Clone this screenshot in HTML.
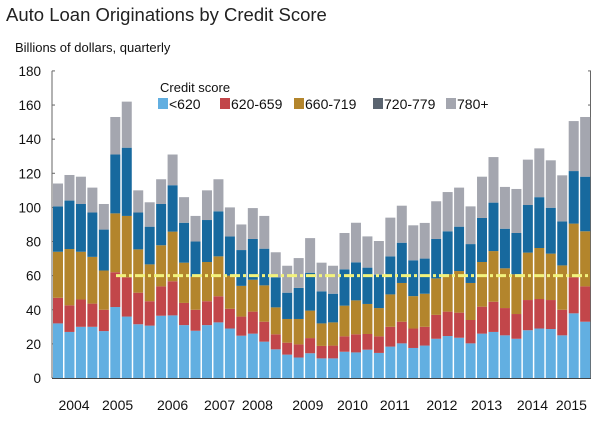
<!DOCTYPE html>
<html><head><meta charset="utf-8"><style>
body{margin:0;background:#fff;font-family:"Liberation Sans",sans-serif;}
svg text{font-family:"Liberation Sans",sans-serif;}
</style></head><body>
<svg id="chart" width="611" height="422" viewBox="0 0 611 422" xmlns="http://www.w3.org/2000/svg">
<text x="6" y="21" font-size="18.5" fill="#222">Auto Loan Originations by Credit Score</text>
<text x="15" y="52" font-size="13" fill="#111">Billions of dollars, quarterly</text>
<g id="yaxis"></g>
<g id="bars"></g>
<g id="xaxis"></g>
<g>
<text x="160" y="92" font-size="13" fill="#111">Credit score</text>
<g id="legend"></g>
</g>
</svg>
<script>
const years=["2004","2005","2006","2007","2008","2009","2010","2011","2012","2013","2014","2015"];
const yearPos=[1.4,5.2,10,14.1,17.4,21.8,25.7,29.4,33.5,37.4,41.4,44.8];
const yTicks=[0,20,40,60,80,100,120,140,160,180];
const seriesNames=["<620","620-659","660-719","720-779","780+"];
// cumulative tops per quarter (2004Q1..2015Q3)
const s620=[32,27,30,30,27.5,41.6,36,31.5,30.7,36.5,36.7,31,27.7,31,32.6,29,24.8,26,21.3,16.8,13.7,12,14.5,11.5,11.5,15.4,15,16.6,14.7,18.4,20.3,17.6,19,23,24.6,23.6,20.3,26,27,25,23,28,29,28.7,25,37.9,33];
const s659=[47,42.6,46,43.6,40,62,59,50,45,53.7,56.7,44,40,45,47.9,40.6,36,38.9,33,25.6,20.7,19.7,23.4,18.8,19,24.4,25.6,25.8,24.4,30,33,29,30,37,38.9,38.3,34,41.8,44.7,41,37.5,45.7,46.3,45.7,40,59,53.7];
const s719=[74,75.6,74,71,63,96.5,95,75.4,66.6,77.8,85.8,67.6,59.4,68,71.3,60,54,57.6,54.3,41.4,34.6,34.6,39.5,32,32.6,42.4,45.5,43.4,41,49,55.7,48,49.4,58.4,60.8,62.7,55.7,68,74.4,64.3,60.8,73.5,76.2,72.9,66,90.5,86];
const s779=[100.6,104,102,97,87,131,135,97,88.7,102,113,91,80,92.6,97.7,83,75,81.5,75.8,59,50,52.8,61.7,50.8,49.4,63.7,67.8,64.7,60.6,71.3,79.3,69,70,81.5,86,88.7,78.5,93.8,102.8,87.5,85,101.4,106,99.8,91.8,121.3,118];
const s780=[114,119,118,111.6,102,153,162,110,103,116.5,131,106,95,110,116.5,100,90,99.6,95,73.7,65.8,70.3,82,67.6,65.8,85,91,83,80.3,94,101,89.5,90.9,103.6,109,111.6,100.6,118,129.5,112,110.8,128,134.6,127.6,118.8,150.6,153];
const refValue=60;
const colors=["#62afe1","#c2464a","#b3852c","#17699e","#a4a6af"];
const legendColors=["#62afe1","#c2464a","#b3852c","#5a6470","#a4a6af"];
const NS="http://www.w3.org/2000/svg";
const x0=58,step=11.46,bw=10,yb=378,ypx=1.706;
const X=i=>x0+i*step;
const Y=v=>yb-v*ypx;
function mk(tag,attrs,parent){const e=document.createElementNS(NS,tag);for(const k in attrs)e.setAttribute(k,attrs[k]);parent.appendChild(e);return e;}
const ya=document.getElementById('yaxis');
yTicks.forEach(t=>{
  const tx=mk('text',{x:41,y:Y(t)+5,'font-size':13.5,'text-anchor':'end',fill:'#111'},ya);tx.textContent=t;
  
  
  mk('line',{x1:52,x2:55,y1:Y(t),y2:Y(t),stroke:'#666'},ya);
  mk('line',{x1:588,x2:591,y1:Y(t),y2:Y(t),stroke:'#666'},ya);
});
mk('line',{x1:52,x2:52,y1:Y(180),y2:yb,stroke:'#666'},ya);
mk('line',{x1:590.5,x2:590.5,y1:Y(180),y2:yb,stroke:'#666'},ya);
const bg=document.getElementById('bars');
const series=[s620,s659,s719,s779,s780];
for(let i=0;i<s620.length;i++){
  let prev=0;
  series.forEach((s,k)=>{
    const r=mk('rect',{x:X(i)-bw/2,y:Y(s[i]),width:bw,height:Y(prev)-Y(s[i]),fill:colors[k]},bg);
    
    
    prev=s[i];
  });
}
const rl=mk('line',{x1:116,x2:590,y1:Y(refValue),y2:Y(refValue),stroke:'#f2f27c','stroke-width':3,'stroke-dasharray':'10,3,3,3'},bg);


const xa=document.getElementById('xaxis');
mk('line',{x1:52,x2:591,y1:yb+0.5,y2:yb+0.5,stroke:'#444'},xa);
years.forEach((y,i)=>{
  const t=mk('text',{x:X(yearPos[i]),y:410,'font-size':14,'text-anchor':'middle',fill:'#111'},xa);t.textContent=y;
  
  
});
const lg=document.getElementById('legend');
const lx=[158,220,294,373,446];
seriesNames.forEach((n,k)=>{
  const g=mk('g',{},lg);
  
  
  mk('rect',{x:lx[k],y:98,width:10,height:11,fill:legendColors[k]},g);
  const t=mk('text',{x:lx[k]+11,y:109,'font-size':14,fill:'#111'},g);t.textContent=n;
});
</script>
</body></html>
